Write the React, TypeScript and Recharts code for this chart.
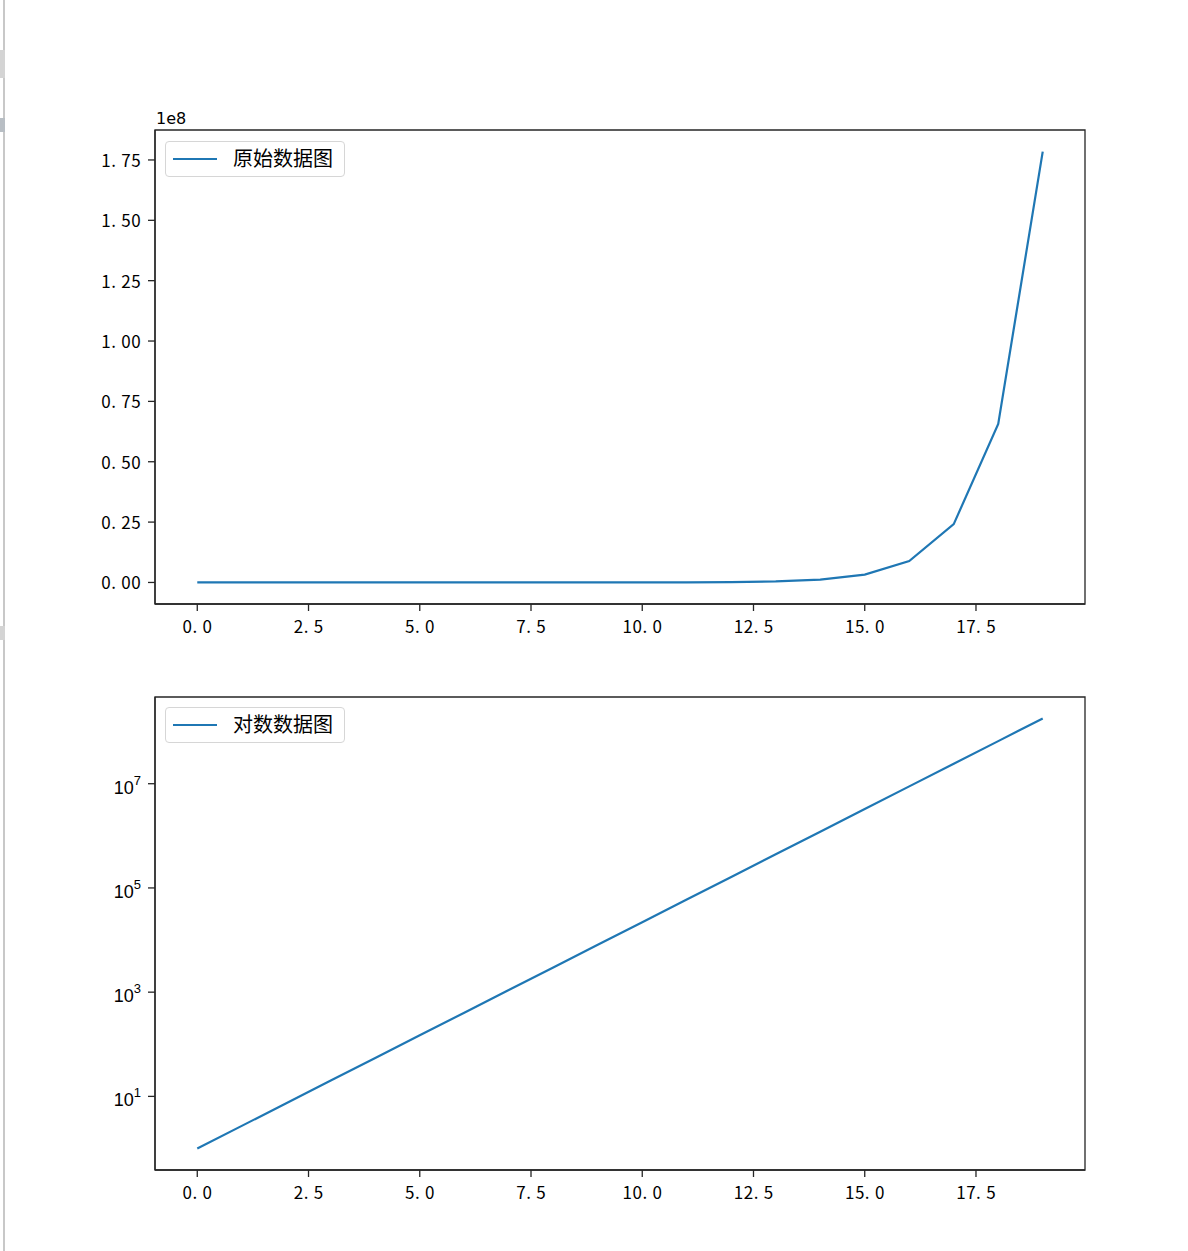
import { LineChart, Line, XAxis, YAxis, ReferenceArea } from "recharts";

// values (grow by ~e per step)
const xs = [0, 1, 2, 3, 4, 5, 6, 7, 8, 9, 10, 11, 12, 13, 14, 15, 16, 17, 18, 19];
const ys = [
  1, 2.718, 7.389, 20.09, 54.6, 148.4, 403.4, 1096.6, 2981, 8103, 22026, 59874, 162755,
  442413, 1202604, 3269017, 8886111, 24154953, 65659969, 178482301,
];
const xTicks = [0, 2.5, 5, 7.5, 10, 12.5, 15, 17.5];
const linTicks = [0, 0.25e8, 0.5e8, 0.75e8, 1e8, 1.25e8, 1.5e8, 1.75e8];
const logTicks = [1e1, 1e3, 1e5, 1e7];
const names = ["原始数据图", "对数数据图"];

const data = xs.map((x, i) => ({ x, y: ys[i] }));

const BLUE = "#1f77b4";
const INK = "#262626";
const NUM_FONT = "'Noto Sans CJK SC', sans-serif";
const XDOM: [number, number] = [-0.95, 19.95];
const LINDOM: [number, number] = [-8.924e6, 1.8741e8];
const LOGDOM: [number, number] = [0.3867, 4.613e8];

// half-width cells, like the SimHei digits in the original
const CELL = 10;
function MonoText({ x, y, str, anchor }: { x: number; y: number; str: string; anchor: "middle" | "end" }) {
  const w = str.length * CELL;
  const x0 = anchor === "end" ? x - w : x - w / 2;
  return (
    <text y={y} textAnchor="middle" fontSize={17} fontFamily={NUM_FONT} fill="#000">
      {str.split("").map((c, i) => (
        <tspan key={i} x={x0 + i * CELL + (c === "." ? 2.5 : CELL / 2)}>
          {c}
        </tspan>
      ))}
    </text>
  );
}

function XTick({ x, y, payload }: any) {
  return <MonoText x={x} y={y + 20} str={payload.value.toFixed(1)} anchor="middle" />;
}

function LinTick({ x, y, payload }: any) {
  return <MonoText x={x - 5} y={y + 7} str={(payload.value / 1e8).toFixed(2)} anchor="end" />;
}

function LogTick({ x, y, payload }: any) {
  const e = Math.round(Math.log10(payload.value));
  return (
    <text x={x - 5} y={y + 10} textAnchor="end" fontFamily="'Liberation Sans', Arial, sans-serif" fill="#000">
      <tspan fontSize={18}>10</tspan>
      <tspan fontSize={13} dy={-9}>{e}</tspan>
    </text>
  );
}

function LegendBox({ top, label }: { top: number; label: string }) {
  return (
    <div
      style={{
        position: "absolute",
        left: 165,
        top,
        width: 180,
        height: 36,
        border: "1px solid #d6d6d6",
        borderRadius: 4,
        background: "rgba(255,255,255,0.8)",
        boxSizing: "border-box",
      }}
    >
      <div style={{ position: "absolute", left: 7, top: 16, width: 44, height: 2, background: BLUE }} />
      <div
        style={{
          position: "absolute",
          left: 67,
          top: 3,
          fontSize: 20,
          lineHeight: "26px",
          fontFamily: "'Noto Sans CJK SC', sans-serif",
          color: "#000",
        }}
      >
        {label}
      </div>
    </div>
  );
}

export default function App() {
  return (
    <div style={{ position: "absolute", left: 0, top: 0, width: 1188, height: 1251, background: "#fff" }}>
      <div style={{ position: "absolute", left: 3, top: 0, width: 2, height: 1251, background: "#c8c8c8" }} />
      <div style={{ position: "absolute", left: 0, top: 50, width: 5, height: 28, background: "#d4d4d4" }} />
      <div style={{ position: "absolute", left: 0, top: 118, width: 5, height: 14, background: "#b8bec4" }} />
      <div style={{ position: "absolute", left: 0, top: 626, width: 5, height: 14, background: "#d4d4d4" }} />

      <div style={{ position: "absolute", left: 0, top: 0 }}>
        <LineChart width={1188} height={650} data={data} margin={{ top: 130, right: 103, left: 95, bottom: 6 }}>
          <XAxis
            dataKey="x"
            type="number"
            domain={XDOM}
            ticks={xTicks}
            allowDataOverflow
            height={40}
            stroke={INK}
            strokeWidth={1.3}
            tickSize={7}
            tick={<XTick />}
          />
          <YAxis
            type="number"
            domain={LINDOM}
            ticks={linTicks}
            allowDataOverflow
            width={60}
            stroke={INK}
            strokeWidth={1.3}
            tickSize={7}
            tick={<LinTick />}
          />
          <ReferenceArea x1={XDOM[0]} x2={XDOM[1]} y1={LINDOM[0]} y2={LINDOM[1]} fill="none" stroke={INK} strokeWidth={1.3} />
          <Line dataKey="y" stroke={BLUE} strokeWidth={2.2} dot={false} isAnimationActive={false} />
        </LineChart>
      </div>
      <div
        style={{
          position: "absolute",
          left: 156,
          top: 109,
          fontSize: 16,
          fontFamily: "'DejaVu Sans', sans-serif",
          color: "#000",
        }}
      >
        1e8
      </div>
      <LegendBox top={141} label={names[0]} />

      <div style={{ position: "absolute", left: 0, top: 650 }}>
        <LineChart width={1188} height={601} data={data} margin={{ top: 47, right: 103, left: 95, bottom: 41 }}>
          <XAxis
            dataKey="x"
            type="number"
            domain={XDOM}
            ticks={xTicks}
            allowDataOverflow
            height={40}
            stroke={INK}
            strokeWidth={1.3}
            tickSize={7}
            tick={<XTick />}
          />
          <YAxis
            type="number"
            scale="log"
            domain={LOGDOM}
            ticks={logTicks}
            allowDataOverflow
            width={60}
            stroke={INK}
            strokeWidth={1.3}
            tickSize={7}
            tick={<LogTick />}
          />
          <ReferenceArea x1={XDOM[0]} x2={XDOM[1]} y1={LOGDOM[0]} y2={LOGDOM[1]} fill="none" stroke={INK} strokeWidth={1.3} />
          <Line dataKey="y" stroke={BLUE} strokeWidth={2.2} dot={false} isAnimationActive={false} />
        </LineChart>
      </div>
      <LegendBox top={707} label={names[1]} />
    </div>
  );
}
